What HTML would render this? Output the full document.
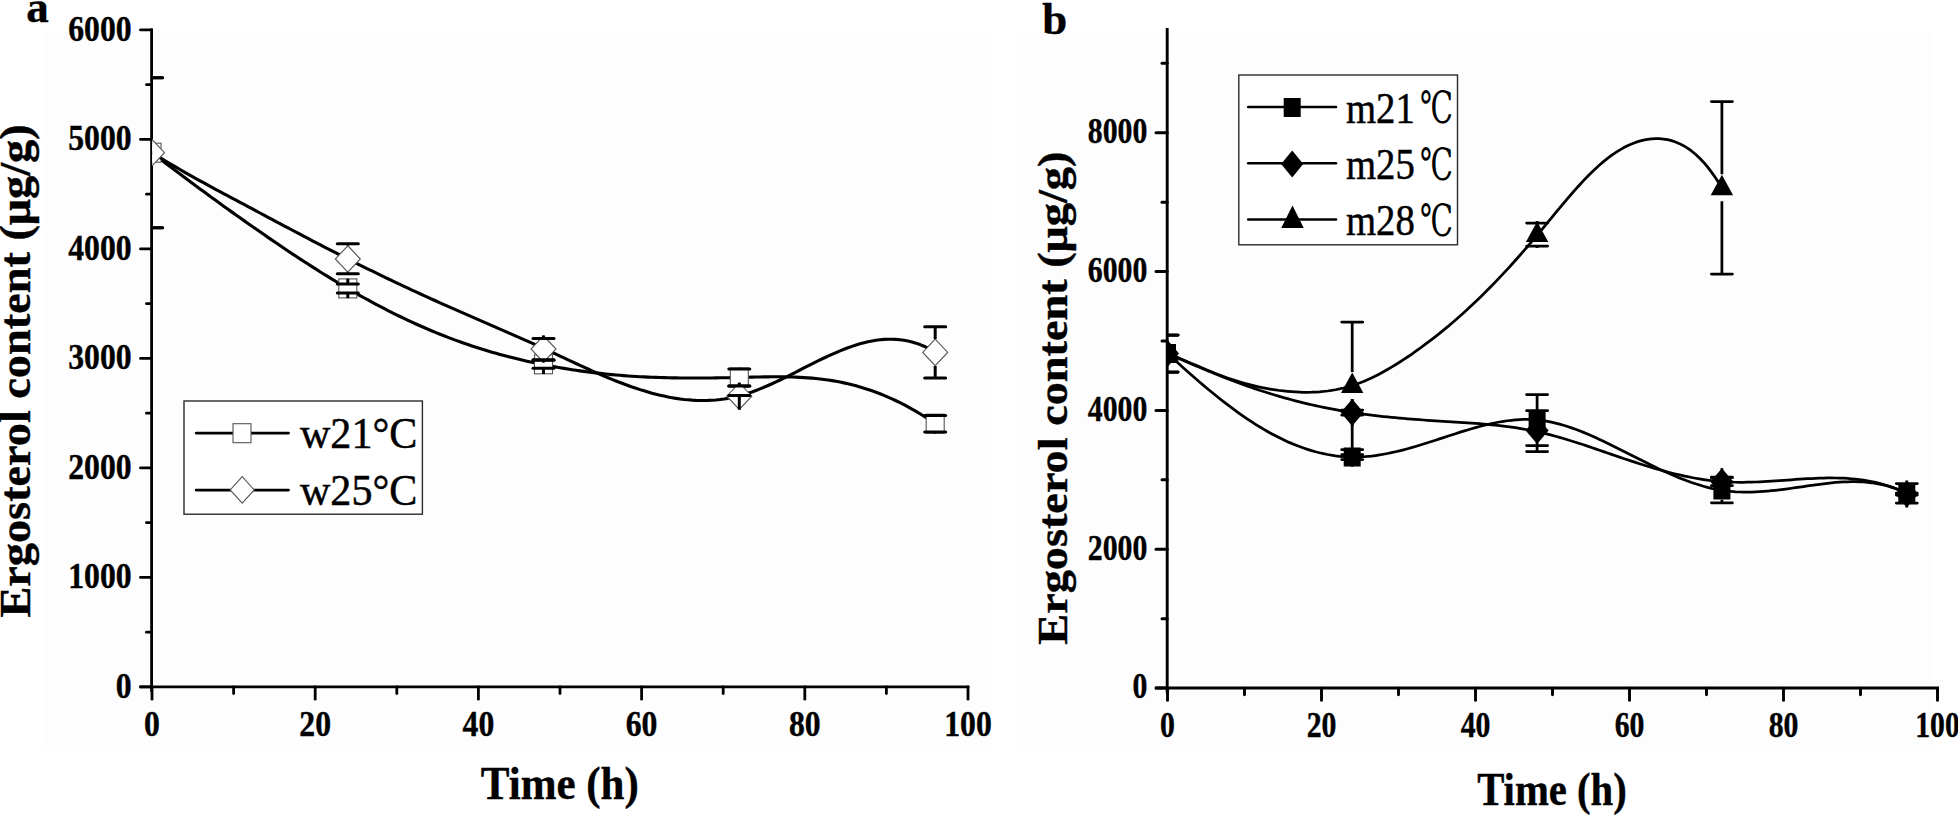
<!DOCTYPE html>
<html lang="en"><head><meta charset="utf-8"><title>Ergosterol content vs time</title>
<style>html,body{margin:0;padding:0;background:#fff;}svg{display:block}</style></head>
<body>
<svg width="1958" height="816" viewBox="0 0 1958 816">
<rect width="1958" height="816" fill="#fff"/>
<rect x="42" y="32" width="950" height="714" fill="#fdfdfd"/>
<rect x="1016" y="32" width="917" height="714" fill="#fdfdfd"/>
<g id="panelA">
<line x1="151.60" y1="28.40" x2="151.60" y2="692.00" stroke="#000" stroke-width="2.8" stroke-linecap="butt"/>
<line x1="139.50" y1="686.90" x2="969.40" y2="686.90" stroke="#000" stroke-width="2.8" stroke-linecap="butt"/>
<line x1="140.50" y1="686.90" x2="151.60" y2="686.90" stroke="#000" stroke-width="2.8" stroke-linecap="round"/>
<text transform="translate(131.60,697.60) scale(0.9,1)" font-family='"Liberation Serif", serif' font-weight="bold" font-size="35.2" text-anchor="end" stroke="#000" stroke-width="0.4">0</text>
<line x1="140.50" y1="577.40" x2="151.60" y2="577.40" stroke="#000" stroke-width="2.8" stroke-linecap="round"/>
<text transform="translate(131.60,588.10) scale(0.9,1)" font-family='"Liberation Serif", serif' font-weight="bold" font-size="35.2" text-anchor="end" stroke="#000" stroke-width="0.4">1000</text>
<line x1="140.50" y1="467.90" x2="151.60" y2="467.90" stroke="#000" stroke-width="2.8" stroke-linecap="round"/>
<text transform="translate(131.60,478.60) scale(0.9,1)" font-family='"Liberation Serif", serif' font-weight="bold" font-size="35.2" text-anchor="end" stroke="#000" stroke-width="0.4">2000</text>
<line x1="140.50" y1="358.40" x2="151.60" y2="358.40" stroke="#000" stroke-width="2.8" stroke-linecap="round"/>
<text transform="translate(131.60,369.10) scale(0.9,1)" font-family='"Liberation Serif", serif' font-weight="bold" font-size="35.2" text-anchor="end" stroke="#000" stroke-width="0.4">3000</text>
<line x1="140.50" y1="248.90" x2="151.60" y2="248.90" stroke="#000" stroke-width="2.8" stroke-linecap="round"/>
<text transform="translate(131.60,259.60) scale(0.9,1)" font-family='"Liberation Serif", serif' font-weight="bold" font-size="35.2" text-anchor="end" stroke="#000" stroke-width="0.4">4000</text>
<line x1="140.50" y1="139.40" x2="151.60" y2="139.40" stroke="#000" stroke-width="2.8" stroke-linecap="round"/>
<text transform="translate(131.60,150.10) scale(0.9,1)" font-family='"Liberation Serif", serif' font-weight="bold" font-size="35.2" text-anchor="end" stroke="#000" stroke-width="0.4">5000</text>
<line x1="140.50" y1="29.90" x2="151.60" y2="29.90" stroke="#000" stroke-width="2.8" stroke-linecap="round"/>
<text transform="translate(131.60,40.60) scale(0.9,1)" font-family='"Liberation Serif", serif' font-weight="bold" font-size="35.2" text-anchor="end" stroke="#000" stroke-width="0.4">6000</text>
<line x1="146.50" y1="632.15" x2="151.60" y2="632.15" stroke="#000" stroke-width="2.8" stroke-linecap="round"/>
<line x1="146.50" y1="522.65" x2="151.60" y2="522.65" stroke="#000" stroke-width="2.8" stroke-linecap="round"/>
<line x1="146.50" y1="413.15" x2="151.60" y2="413.15" stroke="#000" stroke-width="2.8" stroke-linecap="round"/>
<line x1="146.50" y1="303.65" x2="151.60" y2="303.65" stroke="#000" stroke-width="2.8" stroke-linecap="round"/>
<line x1="146.50" y1="194.15" x2="151.60" y2="194.15" stroke="#000" stroke-width="2.8" stroke-linecap="round"/>
<line x1="146.50" y1="84.65" x2="151.60" y2="84.65" stroke="#000" stroke-width="2.8" stroke-linecap="round"/>
<line x1="152.00" y1="686.90" x2="152.00" y2="699.20" stroke="#000" stroke-width="2.8" stroke-linecap="round"/>
<text transform="translate(152.00,736.00) scale(0.9,1)" font-family='"Liberation Serif", serif' font-weight="bold" font-size="35.2" text-anchor="middle" stroke="#000" stroke-width="0.4">0</text>
<line x1="315.20" y1="686.90" x2="315.20" y2="699.20" stroke="#000" stroke-width="2.8" stroke-linecap="round"/>
<text transform="translate(315.20,736.00) scale(0.9,1)" font-family='"Liberation Serif", serif' font-weight="bold" font-size="35.2" text-anchor="middle" stroke="#000" stroke-width="0.4">20</text>
<line x1="478.40" y1="686.90" x2="478.40" y2="699.20" stroke="#000" stroke-width="2.8" stroke-linecap="round"/>
<text transform="translate(478.40,736.00) scale(0.9,1)" font-family='"Liberation Serif", serif' font-weight="bold" font-size="35.2" text-anchor="middle" stroke="#000" stroke-width="0.4">40</text>
<line x1="641.60" y1="686.90" x2="641.60" y2="699.20" stroke="#000" stroke-width="2.8" stroke-linecap="round"/>
<text transform="translate(641.60,736.00) scale(0.9,1)" font-family='"Liberation Serif", serif' font-weight="bold" font-size="35.2" text-anchor="middle" stroke="#000" stroke-width="0.4">60</text>
<line x1="804.80" y1="686.90" x2="804.80" y2="699.20" stroke="#000" stroke-width="2.8" stroke-linecap="round"/>
<text transform="translate(804.80,736.00) scale(0.9,1)" font-family='"Liberation Serif", serif' font-weight="bold" font-size="35.2" text-anchor="middle" stroke="#000" stroke-width="0.4">80</text>
<line x1="968.00" y1="686.90" x2="968.00" y2="699.20" stroke="#000" stroke-width="2.8" stroke-linecap="round"/>
<text transform="translate(968.00,736.00) scale(0.9,1)" font-family='"Liberation Serif", serif' font-weight="bold" font-size="35.2" text-anchor="middle" stroke="#000" stroke-width="0.4">100</text>
<line x1="233.60" y1="686.90" x2="233.60" y2="693.60" stroke="#000" stroke-width="2.8" stroke-linecap="round"/>
<line x1="396.80" y1="686.90" x2="396.80" y2="693.60" stroke="#000" stroke-width="2.8" stroke-linecap="round"/>
<line x1="560.00" y1="686.90" x2="560.00" y2="693.60" stroke="#000" stroke-width="2.8" stroke-linecap="round"/>
<line x1="723.20" y1="686.90" x2="723.20" y2="693.60" stroke="#000" stroke-width="2.8" stroke-linecap="round"/>
<line x1="886.40" y1="686.90" x2="886.40" y2="693.60" stroke="#000" stroke-width="2.8" stroke-linecap="round"/>
<text transform="translate(559.80,799.00) scale(0.935,1)" font-family='"Liberation Serif", serif' font-weight="bold" font-size="46" text-anchor="middle" stroke="#000" stroke-width="0.4">Time (h)</text>
<text transform="translate(30.40,371.00) rotate(-90) scale(1.052,1)" font-family='"Liberation Serif", serif' font-weight="bold" font-size="44" text-anchor="middle" stroke="#000" stroke-width="0.4">Ergosterol content (μg/g)</text>
<text transform="translate(26.20,21.70) scale(1.0,1.0)" font-family='"Liberation Serif", serif' font-weight="bold" font-size="45" text-anchor="start" stroke="#000" stroke-width="0.4">a</text>
<clipPath id="clipA"><rect x="152.2" y="20" width="830" height="667"/></clipPath>
<g clip-path="url(#clipA)">
<path d="M152.0,152.67 L156.0,155.76 L160.0,158.84 L164.0,161.91 L168.0,164.96 L172.0,168.00 L176.0,171.03 L180.0,174.04 L184.0,177.04 L188.0,180.03 L192.0,183.01 L196.0,185.97 L200.0,188.92 L204.0,191.86 L208.0,194.79 L212.0,197.71 L216.0,200.61 L220.0,203.50 L224.0,206.39 L228.0,209.26 L232.0,212.12 L236.0,214.96 L240.0,217.80 L244.0,220.63 L248.0,223.44 L252.0,226.25 L256.0,229.04 L260.0,231.83 L264.0,234.60 L268.0,237.35 L272.0,240.10 L276.0,242.83 L280.0,245.54 L284.0,248.24 L288.0,250.92 L292.0,253.59 L296.0,256.24 L300.0,258.86 L304.0,261.47 L308.0,264.06 L312.0,266.63 L316.0,269.17 L320.0,271.70 L324.0,274.20 L328.0,276.67 L332.0,279.12 L336.0,281.55 L340.0,283.95 L344.0,286.32 L348.0,288.67 L352.0,290.99 L356.0,293.28 L360.0,295.54 L364.0,297.77 L368.0,299.97 L372.0,302.14 L376.0,304.29 L380.0,306.40 L384.0,308.48 L388.0,310.53 L392.0,312.55 L396.0,314.54 L400.0,316.49 L404.0,318.41 L408.0,320.31 L412.0,322.16 L416.0,323.99 L420.0,325.78 L424.0,327.54 L428.0,329.26 L432.0,330.95 L436.0,332.61 L440.0,334.22 L444.0,335.81 L448.0,337.36 L452.0,338.87 L456.0,340.35 L460.0,341.79 L464.0,343.20 L468.0,344.58 L472.0,345.92 L476.0,347.23 L480.0,348.50 L484.0,349.75 L488.0,350.96 L492.0,352.14 L496.0,353.28 L500.0,354.40 L504.0,355.49 L508.0,356.55 L512.0,357.57 L516.0,358.57 L520.0,359.54 L524.0,360.48 L528.0,361.39 L532.0,362.28 L536.0,363.13 L540.0,363.96 L544.0,364.77 L548.0,365.55 L552.0,366.30 L556.0,367.02 L560.0,367.72 L564.0,368.40 L568.0,369.05 L572.0,369.67 L576.0,370.27 L580.0,370.85 L584.0,371.40 L588.0,371.93 L592.0,372.43 L596.0,372.91 L600.0,373.37 L604.0,373.80 L608.0,374.21 L612.0,374.60 L616.0,374.96 L620.0,375.31 L624.0,375.63 L628.0,375.93 L632.0,376.20 L636.0,376.46 L640.0,376.69 L644.0,376.90 L648.0,377.10 L652.0,377.27 L656.0,377.42 L660.0,377.56 L664.0,377.67 L668.0,377.77 L672.0,377.86 L676.0,377.92 L680.0,377.98 L684.0,378.01 L688.0,378.04 L692.0,378.05 L696.0,378.05 L700.0,378.04 L704.0,378.01 L708.0,377.98 L712.0,377.93 L716.0,377.88 L720.0,377.82 L724.0,377.75 L728.0,377.68 L732.0,377.60 L736.0,377.51 L740.0,377.42 L744.0,377.32 L748.0,377.23 L752.0,377.13 L756.0,377.05 L760.0,376.97 L764.0,376.90 L768.0,376.85 L772.0,376.82 L776.0,376.80 L780.0,376.82 L784.0,376.86 L788.0,376.93 L792.0,377.03 L796.0,377.17 L800.0,377.35 L804.0,377.58 L808.0,377.85 L812.0,378.17 L816.0,378.54 L820.0,378.97 L824.0,379.46 L828.0,380.01 L832.0,380.63 L836.0,381.31 L840.0,382.06 L844.0,382.89 L848.0,383.80 L852.0,384.77 L856.0,385.83 L860.0,386.96 L864.0,388.16 L868.0,389.45 L872.0,390.82 L876.0,392.26 L880.0,393.79 L884.0,395.40 L888.0,397.10 L892.0,398.87 L896.0,400.74 L900.0,402.69 L904.0,404.72 L908.0,406.85 L912.0,409.06 L916.0,411.36 L920.0,413.75 L924.0,416.24 L928.0,418.81 L932.0,421.48 L935.4,423.83" fill="none" stroke="#000" stroke-width="3.1" stroke-linejoin="round" stroke-linecap="round"/>
<rect x="143.00" y="143.20" width="18" height="19" fill="#fff" stroke="#555" stroke-width="1.1"/>
<rect x="338.80" y="278.90" width="18" height="19" fill="#fff" stroke="#555" stroke-width="1.1"/>
<rect x="534.50" y="354.80" width="18" height="19" fill="#fff" stroke="#555" stroke-width="1.1"/>
<rect x="730.30" y="368.00" width="18" height="19" fill="#fff" stroke="#555" stroke-width="1.1"/>
<rect x="926.20" y="414.20" width="18" height="19" fill="#fff" stroke="#555" stroke-width="1.1"/>
<line x1="141.50" y1="77.70" x2="162.50" y2="77.70" stroke="#000" stroke-width="3.0" stroke-linecap="round"/>
<line x1="141.50" y1="227.70" x2="162.50" y2="227.70" stroke="#000" stroke-width="3.0" stroke-linecap="round"/>
<line x1="337.30" y1="284.00" x2="358.30" y2="284.00" stroke="#000" stroke-width="3.0" stroke-linecap="round"/>
<line x1="347.80" y1="284.00" x2="347.80" y2="278.70" stroke="#000" stroke-width="3.0" stroke-linecap="butt"/>
<line x1="337.30" y1="292.90" x2="358.30" y2="292.90" stroke="#000" stroke-width="3.0" stroke-linecap="round"/>
<line x1="347.80" y1="292.90" x2="347.80" y2="298.10" stroke="#000" stroke-width="3.0" stroke-linecap="butt"/>
<line x1="533.00" y1="360.30" x2="554.00" y2="360.30" stroke="#000" stroke-width="3.0" stroke-linecap="round"/>
<line x1="543.50" y1="360.30" x2="543.50" y2="354.60" stroke="#000" stroke-width="3.0" stroke-linecap="butt"/>
<line x1="533.00" y1="368.30" x2="554.00" y2="368.30" stroke="#000" stroke-width="3.0" stroke-linecap="round"/>
<line x1="543.50" y1="368.30" x2="543.50" y2="374.00" stroke="#000" stroke-width="3.0" stroke-linecap="butt"/>
<line x1="728.80" y1="368.90" x2="749.80" y2="368.90" stroke="#000" stroke-width="3.0" stroke-linecap="round"/>
<line x1="739.30" y1="368.90" x2="739.30" y2="367.80" stroke="#000" stroke-width="3.0" stroke-linecap="butt"/>
<line x1="728.80" y1="386.00" x2="749.80" y2="386.00" stroke="#000" stroke-width="3.0" stroke-linecap="round"/>
<line x1="739.30" y1="386.00" x2="739.30" y2="387.20" stroke="#000" stroke-width="3.0" stroke-linecap="butt"/>
<line x1="924.70" y1="415.40" x2="945.70" y2="415.40" stroke="#000" stroke-width="3.0" stroke-linecap="round"/>
<line x1="935.20" y1="415.40" x2="935.20" y2="414.00" stroke="#000" stroke-width="3.0" stroke-linecap="butt"/>
<line x1="924.70" y1="432.00" x2="945.70" y2="432.00" stroke="#000" stroke-width="3.0" stroke-linecap="round"/>
<line x1="935.20" y1="432.00" x2="935.20" y2="433.40" stroke="#000" stroke-width="3.0" stroke-linecap="butt"/>
<path d="M152.0,152.74 L156.0,155.21 L160.0,157.66 L164.0,160.08 L168.0,162.47 L172.0,164.84 L176.0,167.18 L180.0,169.49 L184.0,171.79 L188.0,174.06 L192.0,176.32 L196.0,178.55 L200.0,180.77 L204.0,182.98 L208.0,185.17 L212.0,187.35 L216.0,189.52 L220.0,191.67 L224.0,193.82 L228.0,195.96 L232.0,198.10 L236.0,200.23 L240.0,202.36 L244.0,204.49 L248.0,206.61 L252.0,208.74 L256.0,210.87 L260.0,213.00 L264.0,215.13 L268.0,217.26 L272.0,219.38 L276.0,221.51 L280.0,223.64 L284.0,225.76 L288.0,227.88 L292.0,230.00 L296.0,232.11 L300.0,234.23 L304.0,236.33 L308.0,238.43 L312.0,240.53 L316.0,242.62 L320.0,244.70 L324.0,246.78 L328.0,248.84 L332.0,250.90 L336.0,252.96 L340.0,255.00 L344.0,257.03 L348.0,259.06 L352.0,261.07 L356.0,263.07 L360.0,265.06 L364.0,267.05 L368.0,269.02 L372.0,270.98 L376.0,272.93 L380.0,274.87 L384.0,276.81 L388.0,278.73 L392.0,280.64 L396.0,282.54 L400.0,284.43 L404.0,286.32 L408.0,288.19 L412.0,290.05 L416.0,291.91 L420.0,293.75 L424.0,295.59 L428.0,297.41 L432.0,299.23 L436.0,301.03 L440.0,302.83 L444.0,304.62 L448.0,306.40 L452.0,308.16 L456.0,309.93 L460.0,311.68 L464.0,313.43 L468.0,315.18 L472.0,316.92 L476.0,318.65 L480.0,320.39 L484.0,322.12 L488.0,323.86 L492.0,325.59 L496.0,327.33 L500.0,329.07 L504.0,330.81 L508.0,332.56 L512.0,334.31 L516.0,336.07 L520.0,337.84 L524.0,339.61 L528.0,341.40 L532.0,343.19 L536.0,345.00 L540.0,346.82 L544.0,348.65 L548.0,350.49 L552.0,352.34 L556.0,354.21 L560.0,356.07 L564.0,357.94 L568.0,359.81 L572.0,361.67 L576.0,363.52 L580.0,365.36 L584.0,367.19 L588.0,369.00 L592.0,370.80 L596.0,372.56 L600.0,374.31 L604.0,376.02 L608.0,377.70 L612.0,379.34 L616.0,380.95 L620.0,382.51 L624.0,384.03 L628.0,385.50 L632.0,386.92 L636.0,388.29 L640.0,389.60 L644.0,390.85 L648.0,392.03 L652.0,393.15 L656.0,394.21 L660.0,395.19 L664.0,396.09 L668.0,396.93 L672.0,397.68 L676.0,398.35 L680.0,398.93 L684.0,399.43 L688.0,399.83 L692.0,400.15 L696.0,400.37 L700.0,400.49 L704.0,400.51 L708.0,400.42 L712.0,400.23 L716.0,399.93 L720.0,399.52 L724.0,399.00 L728.0,398.35 L732.0,397.59 L736.0,396.70 L740.0,395.69 L744.0,394.56 L748.0,393.30 L752.0,391.94 L756.0,390.47 L760.0,388.91 L764.0,387.26 L768.0,385.54 L772.0,383.75 L776.0,381.90 L780.0,380.00 L784.0,378.05 L788.0,376.07 L792.0,374.06 L796.0,372.03 L800.0,370.00 L804.0,367.96 L808.0,365.92 L812.0,363.91 L816.0,361.91 L820.0,359.95 L824.0,358.02 L828.0,356.14 L832.0,354.32 L836.0,352.57 L840.0,350.88 L844.0,349.28 L848.0,347.76 L852.0,346.35 L856.0,345.03 L860.0,343.83 L864.0,342.75 L868.0,341.79 L872.0,340.98 L876.0,340.30 L880.0,339.77 L884.0,339.41 L888.0,339.21 L892.0,339.19 L896.0,339.34 L900.0,339.69 L904.0,340.24 L908.0,340.99 L912.0,341.95 L916.0,343.14 L920.0,344.56 L924.0,346.21 L928.0,348.11 L932.0,350.25 L935.4,352.29" fill="none" stroke="#000" stroke-width="3.1" stroke-linejoin="round" stroke-linecap="round"/>
<polygon points="152.00,139.45 164.50,152.70 152.00,165.95 139.50,152.70" fill="#fff" stroke="#555" stroke-width="1.1"/>
<polygon points="347.80,245.75 360.30,259.00 347.80,272.25 335.30,259.00" fill="#fff" stroke="#555" stroke-width="1.1"/>
<polygon points="543.50,335.75 556.00,349.00 543.50,362.25 531.00,349.00" fill="#fff" stroke="#555" stroke-width="1.1"/>
<polygon points="739.30,382.95 751.80,396.20 739.30,409.45 726.80,396.20" fill="#fff" stroke="#555" stroke-width="1.1"/>
<polygon points="935.20,339.15 947.70,352.40 935.20,365.65 922.70,352.40" fill="#fff" stroke="#555" stroke-width="1.1"/>
<line x1="141.50" y1="77.70" x2="162.50" y2="77.70" stroke="#000" stroke-width="3.0" stroke-linecap="round"/>
<line x1="141.50" y1="227.70" x2="162.50" y2="227.70" stroke="#000" stroke-width="3.0" stroke-linecap="round"/>
<line x1="337.30" y1="243.80" x2="358.30" y2="243.80" stroke="#000" stroke-width="3.0" stroke-linecap="round"/>
<line x1="347.80" y1="243.80" x2="347.80" y2="245.50" stroke="#000" stroke-width="3.0" stroke-linecap="butt"/>
<line x1="337.30" y1="273.80" x2="358.30" y2="273.80" stroke="#000" stroke-width="3.0" stroke-linecap="round"/>
<line x1="347.80" y1="273.80" x2="347.80" y2="272.50" stroke="#000" stroke-width="3.0" stroke-linecap="butt"/>
<line x1="533.00" y1="338.60" x2="554.00" y2="338.60" stroke="#000" stroke-width="3.0" stroke-linecap="round"/>
<line x1="543.50" y1="338.60" x2="543.50" y2="335.50" stroke="#000" stroke-width="3.0" stroke-linecap="butt"/>
<line x1="533.00" y1="359.70" x2="554.00" y2="359.70" stroke="#000" stroke-width="3.0" stroke-linecap="round"/>
<line x1="543.50" y1="359.70" x2="543.50" y2="362.50" stroke="#000" stroke-width="3.0" stroke-linecap="butt"/>
<line x1="728.80" y1="386.00" x2="749.80" y2="386.00" stroke="#000" stroke-width="3.0" stroke-linecap="round"/>
<line x1="739.30" y1="386.00" x2="739.30" y2="382.70" stroke="#000" stroke-width="3.0" stroke-linecap="butt"/>
<line x1="728.80" y1="395.60" x2="749.80" y2="395.60" stroke="#000" stroke-width="3.0" stroke-linecap="round"/>
<line x1="739.30" y1="395.60" x2="739.30" y2="409.70" stroke="#000" stroke-width="3.0" stroke-linecap="butt"/>
<line x1="924.70" y1="326.70" x2="945.70" y2="326.70" stroke="#000" stroke-width="3.0" stroke-linecap="round"/>
<line x1="935.20" y1="326.70" x2="935.20" y2="338.90" stroke="#000" stroke-width="3.0" stroke-linecap="butt"/>
<line x1="924.70" y1="378.10" x2="945.70" y2="378.10" stroke="#000" stroke-width="3.0" stroke-linecap="round"/>
<line x1="935.20" y1="378.10" x2="935.20" y2="365.90" stroke="#000" stroke-width="3.0" stroke-linecap="butt"/>
</g>
<rect x="184" y="401" width="238.4" height="113.2" fill="#fff" stroke="#2a2a2a" stroke-width="1.4"/>
<line x1="196.20" y1="433.10" x2="288.50" y2="433.10" stroke="#000" stroke-width="2.9" stroke-linecap="round"/>
<rect x="233.00" y="423.70" width="18" height="19" fill="#fff" stroke="#555" stroke-width="1.1"/>
<line x1="196.20" y1="490.10" x2="288.50" y2="490.10" stroke="#000" stroke-width="2.9" stroke-linecap="round"/>
<polygon points="242.20,476.65 254.20,489.90 242.20,503.15 230.20,489.90" fill="#fff" stroke="#555" stroke-width="1.1"/>
<text transform="translate(300.00,448.20) scale(0.945,1)" font-family='"Liberation Serif", serif' font-weight="normal" font-size="44.5" text-anchor="start" stroke="#000" stroke-width="0.5">w21°C</text>
<text transform="translate(300.00,505.00) scale(0.945,1)" font-family='"Liberation Serif", serif' font-weight="normal" font-size="44.5" text-anchor="start" stroke="#000" stroke-width="0.5">w25°C</text>
</g>
<g id="panelB">
<line x1="1167.20" y1="27.90" x2="1167.20" y2="693.00" stroke="#000" stroke-width="2.9" stroke-linecap="butt"/>
<line x1="1155.00" y1="688.10" x2="1938.90" y2="688.10" stroke="#000" stroke-width="3.0" stroke-linecap="butt"/>
<line x1="1156.00" y1="688.10" x2="1167.20" y2="688.10" stroke="#000" stroke-width="3.0" stroke-linecap="round"/>
<text transform="translate(1147.30,698.40) scale(0.845,1)" font-family='"Liberation Serif", serif' font-weight="bold" font-size="35.2" text-anchor="end" stroke="#000" stroke-width="0.4">0</text>
<line x1="1156.00" y1="549.26" x2="1167.20" y2="549.26" stroke="#000" stroke-width="3.0" stroke-linecap="round"/>
<text transform="translate(1147.30,559.56) scale(0.845,1)" font-family='"Liberation Serif", serif' font-weight="bold" font-size="35.2" text-anchor="end" stroke="#000" stroke-width="0.4">2000</text>
<line x1="1156.00" y1="410.42" x2="1167.20" y2="410.42" stroke="#000" stroke-width="3.0" stroke-linecap="round"/>
<text transform="translate(1147.30,420.72) scale(0.845,1)" font-family='"Liberation Serif", serif' font-weight="bold" font-size="35.2" text-anchor="end" stroke="#000" stroke-width="0.4">4000</text>
<line x1="1156.00" y1="271.58" x2="1167.20" y2="271.58" stroke="#000" stroke-width="3.0" stroke-linecap="round"/>
<text transform="translate(1147.30,281.88) scale(0.845,1)" font-family='"Liberation Serif", serif' font-weight="bold" font-size="35.2" text-anchor="end" stroke="#000" stroke-width="0.4">6000</text>
<line x1="1156.00" y1="132.74" x2="1167.20" y2="132.74" stroke="#000" stroke-width="3.0" stroke-linecap="round"/>
<text transform="translate(1147.30,143.04) scale(0.845,1)" font-family='"Liberation Serif", serif' font-weight="bold" font-size="35.2" text-anchor="end" stroke="#000" stroke-width="0.4">8000</text>
<line x1="1162.00" y1="618.68" x2="1167.20" y2="618.68" stroke="#000" stroke-width="3.0" stroke-linecap="round"/>
<line x1="1162.00" y1="479.84" x2="1167.20" y2="479.84" stroke="#000" stroke-width="3.0" stroke-linecap="round"/>
<line x1="1162.00" y1="341.00" x2="1167.20" y2="341.00" stroke="#000" stroke-width="3.0" stroke-linecap="round"/>
<line x1="1162.00" y1="202.16" x2="1167.20" y2="202.16" stroke="#000" stroke-width="3.0" stroke-linecap="round"/>
<line x1="1162.00" y1="63.32" x2="1167.20" y2="63.32" stroke="#000" stroke-width="3.0" stroke-linecap="round"/>
<line x1="1167.50" y1="688.10" x2="1167.50" y2="700.40" stroke="#000" stroke-width="2.9" stroke-linecap="round"/>
<text transform="translate(1167.50,737.00) scale(0.845,1)" font-family='"Liberation Serif", serif' font-weight="bold" font-size="35.2" text-anchor="middle" stroke="#000" stroke-width="0.4">0</text>
<line x1="1321.50" y1="688.10" x2="1321.50" y2="700.40" stroke="#000" stroke-width="2.9" stroke-linecap="round"/>
<text transform="translate(1321.50,737.00) scale(0.845,1)" font-family='"Liberation Serif", serif' font-weight="bold" font-size="35.2" text-anchor="middle" stroke="#000" stroke-width="0.4">20</text>
<line x1="1475.50" y1="688.10" x2="1475.50" y2="700.40" stroke="#000" stroke-width="2.9" stroke-linecap="round"/>
<text transform="translate(1475.50,737.00) scale(0.845,1)" font-family='"Liberation Serif", serif' font-weight="bold" font-size="35.2" text-anchor="middle" stroke="#000" stroke-width="0.4">40</text>
<line x1="1629.50" y1="688.10" x2="1629.50" y2="700.40" stroke="#000" stroke-width="2.9" stroke-linecap="round"/>
<text transform="translate(1629.50,737.00) scale(0.845,1)" font-family='"Liberation Serif", serif' font-weight="bold" font-size="35.2" text-anchor="middle" stroke="#000" stroke-width="0.4">60</text>
<line x1="1783.50" y1="688.10" x2="1783.50" y2="700.40" stroke="#000" stroke-width="2.9" stroke-linecap="round"/>
<text transform="translate(1783.50,737.00) scale(0.845,1)" font-family='"Liberation Serif", serif' font-weight="bold" font-size="35.2" text-anchor="middle" stroke="#000" stroke-width="0.4">80</text>
<line x1="1937.50" y1="688.10" x2="1937.50" y2="700.40" stroke="#000" stroke-width="2.9" stroke-linecap="round"/>
<text transform="translate(1937.50,737.00) scale(0.845,1)" font-family='"Liberation Serif", serif' font-weight="bold" font-size="35.2" text-anchor="middle" stroke="#000" stroke-width="0.4">100</text>
<line x1="1244.50" y1="688.10" x2="1244.50" y2="694.80" stroke="#000" stroke-width="2.9" stroke-linecap="round"/>
<line x1="1398.50" y1="688.10" x2="1398.50" y2="694.80" stroke="#000" stroke-width="2.9" stroke-linecap="round"/>
<line x1="1552.50" y1="688.10" x2="1552.50" y2="694.80" stroke="#000" stroke-width="2.9" stroke-linecap="round"/>
<line x1="1706.50" y1="688.10" x2="1706.50" y2="694.80" stroke="#000" stroke-width="2.9" stroke-linecap="round"/>
<line x1="1860.50" y1="688.10" x2="1860.50" y2="694.80" stroke="#000" stroke-width="2.9" stroke-linecap="round"/>
<text transform="translate(1552.00,805.00) scale(0.885,1)" font-family='"Liberation Serif", serif' font-weight="bold" font-size="46" text-anchor="middle" stroke="#000" stroke-width="0.4">Time (h)</text>
<text transform="translate(1066.50,398.20) rotate(-90) scale(1.115,1)" font-family='"Liberation Serif", serif' font-weight="bold" font-size="41.5" text-anchor="middle" stroke="#000" stroke-width="0.4">Ergosterol content (μg/g)</text>
<text transform="translate(1042.30,33.80) scale(1.03,1.0)" font-family='"Liberation Serif", serif' font-weight="bold" font-size="43.5" text-anchor="start" stroke="#000" stroke-width="0.4">b</text>
<clipPath id="clipB"><rect x="1167.5" y="20" width="790" height="668"/></clipPath>
<g clip-path="url(#clipB)">
<path d="M1167.5,353.38 L1171.5,357.05 L1175.5,360.71 L1179.5,364.34 L1183.5,367.94 L1187.5,371.50 L1191.5,375.03 L1195.5,378.52 L1199.5,381.97 L1203.5,385.37 L1207.5,388.73 L1211.5,392.04 L1215.5,395.29 L1219.5,398.49 L1223.5,401.63 L1227.5,404.71 L1231.5,407.72 L1235.5,410.67 L1239.5,413.54 L1243.5,416.35 L1247.5,419.07 L1251.5,421.72 L1255.5,424.29 L1259.5,426.77 L1263.5,429.17 L1267.5,431.47 L1271.5,433.69 L1275.5,435.82 L1279.5,437.85 L1283.5,439.79 L1287.5,441.63 L1291.5,443.38 L1295.5,445.02 L1299.5,446.57 L1303.5,448.02 L1307.5,449.36 L1311.5,450.61 L1315.5,451.74 L1319.5,452.77 L1323.5,453.70 L1327.5,454.51 L1331.5,455.22 L1335.5,455.81 L1339.5,456.29 L1343.5,456.66 L1347.5,456.91 L1351.5,457.04 L1355.5,457.05 L1359.5,456.96 L1363.5,456.75 L1367.5,456.44 L1371.5,456.03 L1375.5,455.52 L1379.5,454.93 L1383.5,454.25 L1387.5,453.50 L1391.5,452.67 L1395.5,451.77 L1399.5,450.82 L1403.5,449.80 L1407.5,448.73 L1411.5,447.61 L1415.5,446.46 L1419.5,445.26 L1423.5,444.03 L1427.5,442.78 L1431.5,441.51 L1435.5,440.21 L1439.5,438.91 L1443.5,437.60 L1447.5,436.29 L1451.5,434.99 L1455.5,433.69 L1459.5,432.42 L1463.5,431.17 L1467.5,429.94 L1471.5,428.76 L1475.5,427.61 L1479.5,426.52 L1483.5,425.48 L1487.5,424.50 L1491.5,423.59 L1495.5,422.75 L1499.5,422.00 L1503.5,421.33 L1507.5,420.75 L1511.5,420.27 L1515.5,419.89 L1519.5,419.63 L1523.5,419.48 L1527.5,419.46 L1531.5,419.57 L1535.5,419.82 L1539.5,420.20 L1543.5,420.73 L1547.5,421.39 L1551.5,422.18 L1555.5,423.10 L1559.5,424.13 L1563.5,425.26 L1567.5,426.51 L1571.5,427.85 L1575.5,429.28 L1579.5,430.79 L1583.5,432.38 L1587.5,434.05 L1591.5,435.77 L1595.5,437.56 L1599.5,439.40 L1603.5,441.29 L1607.5,443.22 L1611.5,445.18 L1615.5,447.17 L1619.5,449.18 L1623.5,451.20 L1627.5,453.23 L1631.5,455.27 L1635.5,457.30 L1639.5,459.32 L1643.5,461.33 L1647.5,463.32 L1651.5,465.28 L1655.5,467.22 L1659.5,469.12 L1663.5,470.98 L1667.5,472.79 L1671.5,474.55 L1675.5,476.26 L1679.5,477.91 L1683.5,479.50 L1687.5,481.01 L1691.5,482.44 L1695.5,483.80 L1699.5,485.06 L1703.5,486.24 L1707.5,487.32 L1711.5,488.30 L1715.5,489.16 L1719.5,489.92 L1723.5,490.56 L1727.5,491.08 L1731.5,491.49 L1735.5,491.79 L1739.5,492.00 L1743.5,492.11 L1747.5,492.13 L1751.5,492.06 L1755.5,491.93 L1759.5,491.72 L1763.5,491.44 L1767.5,491.11 L1771.5,490.73 L1775.5,490.30 L1779.5,489.83 L1783.5,489.33 L1787.5,488.80 L1791.5,488.25 L1795.5,487.68 L1799.5,487.10 L1803.5,486.52 L1807.5,485.94 L1811.5,485.37 L1815.5,484.81 L1819.5,484.27 L1823.5,483.77 L1827.5,483.30 L1831.5,482.87 L1835.5,482.49 L1839.5,482.18 L1843.5,481.93 L1847.5,481.76 L1851.5,481.67 L1855.5,481.68 L1859.5,481.78 L1863.5,481.99 L1867.5,482.31 L1871.5,482.76 L1875.5,483.34 L1879.5,484.06 L1883.5,484.92 L1887.5,485.94 L1891.5,487.12 L1895.5,488.46 L1899.5,489.99 L1903.5,491.70 L1906.7,493.21" fill="none" stroke="#000" stroke-width="2.75" stroke-linejoin="round" stroke-linecap="round"/>
<line x1="1157.00" y1="335.00" x2="1178.00" y2="335.00" stroke="#000" stroke-width="2.75" stroke-linecap="round"/>
<line x1="1157.00" y1="372.00" x2="1178.00" y2="372.00" stroke="#000" stroke-width="2.75" stroke-linecap="round"/>
<line x1="1341.70" y1="454.50" x2="1362.70" y2="454.50" stroke="#000" stroke-width="2.75" stroke-linecap="round"/>
<line x1="1352.20" y1="454.50" x2="1352.20" y2="447.30" stroke="#000" stroke-width="2.75" stroke-linecap="butt"/>
<line x1="1341.70" y1="459.50" x2="1362.70" y2="459.50" stroke="#000" stroke-width="2.75" stroke-linecap="round"/>
<line x1="1352.20" y1="459.50" x2="1352.20" y2="466.70" stroke="#000" stroke-width="2.75" stroke-linecap="butt"/>
<line x1="1526.60" y1="394.50" x2="1547.60" y2="394.50" stroke="#000" stroke-width="2.75" stroke-linecap="round"/>
<line x1="1537.10" y1="394.50" x2="1537.10" y2="410.50" stroke="#000" stroke-width="2.75" stroke-linecap="butt"/>
<line x1="1526.60" y1="445.50" x2="1547.60" y2="445.50" stroke="#000" stroke-width="2.75" stroke-linecap="round"/>
<line x1="1537.10" y1="445.50" x2="1537.10" y2="429.90" stroke="#000" stroke-width="2.75" stroke-linecap="butt"/>
<line x1="1711.40" y1="477.20" x2="1732.40" y2="477.20" stroke="#000" stroke-width="2.75" stroke-linecap="round"/>
<line x1="1721.90" y1="477.20" x2="1721.90" y2="480.30" stroke="#000" stroke-width="2.75" stroke-linecap="butt"/>
<line x1="1711.40" y1="502.80" x2="1732.40" y2="502.80" stroke="#000" stroke-width="2.75" stroke-linecap="round"/>
<line x1="1721.90" y1="502.80" x2="1721.90" y2="499.70" stroke="#000" stroke-width="2.75" stroke-linecap="butt"/>
<line x1="1896.30" y1="483.50" x2="1917.30" y2="483.50" stroke="#000" stroke-width="2.75" stroke-linecap="round"/>
<line x1="1896.30" y1="503.10" x2="1917.30" y2="503.10" stroke="#000" stroke-width="2.75" stroke-linecap="round"/>
<rect x="1159.00" y="344.00" width="17" height="19" fill="#000"/>
<rect x="1343.70" y="447.50" width="17" height="19" fill="#000"/>
<rect x="1528.60" y="410.70" width="17" height="19" fill="#000"/>
<rect x="1713.40" y="480.50" width="17" height="19" fill="#000"/>
<rect x="1898.30" y="483.70" width="17" height="19" fill="#000"/>
<path d="M1167.5,353.40 L1171.5,355.18 L1175.5,356.96 L1179.5,358.72 L1183.5,360.47 L1187.5,362.21 L1191.5,363.94 L1195.5,365.65 L1199.5,367.35 L1203.5,369.03 L1207.5,370.69 L1211.5,372.33 L1215.5,373.96 L1219.5,375.56 L1223.5,377.14 L1227.5,378.70 L1231.5,380.24 L1235.5,381.75 L1239.5,383.23 L1243.5,384.69 L1247.5,386.12 L1251.5,387.52 L1255.5,388.89 L1259.5,390.22 L1263.5,391.53 L1267.5,392.80 L1271.5,394.04 L1275.5,395.25 L1279.5,396.43 L1283.5,397.58 L1287.5,398.69 L1291.5,399.77 L1295.5,400.83 L1299.5,401.85 L1303.5,402.84 L1307.5,403.80 L1311.5,404.73 L1315.5,405.63 L1319.5,406.50 L1323.5,407.34 L1327.5,408.15 L1331.5,408.93 L1335.5,409.68 L1339.5,410.40 L1343.5,411.09 L1347.5,411.76 L1351.5,412.39 L1355.5,413.00 L1359.5,413.58 L1363.5,414.13 L1367.5,414.66 L1371.5,415.17 L1375.5,415.65 L1379.5,416.11 L1383.5,416.54 L1387.5,416.96 L1391.5,417.36 L1395.5,417.74 L1399.5,418.11 L1403.5,418.45 L1407.5,418.79 L1411.5,419.11 L1415.5,419.42 L1419.5,419.72 L1423.5,420.00 L1427.5,420.28 L1431.5,420.55 L1435.5,420.82 L1439.5,421.07 L1443.5,421.33 L1447.5,421.58 L1451.5,421.82 L1455.5,422.07 L1459.5,422.32 L1463.5,422.58 L1467.5,422.85 L1471.5,423.13 L1475.5,423.42 L1479.5,423.74 L1483.5,424.07 L1487.5,424.42 L1491.5,424.80 L1495.5,425.20 L1499.5,425.63 L1503.5,426.10 L1507.5,426.60 L1511.5,427.14 L1515.5,427.72 L1519.5,428.35 L1523.5,429.02 L1527.5,429.74 L1531.5,430.51 L1535.5,431.33 L1539.5,432.21 L1543.5,433.14 L1547.5,434.13 L1551.5,435.16 L1555.5,436.24 L1559.5,437.37 L1563.5,438.53 L1567.5,439.73 L1571.5,440.96 L1575.5,442.22 L1579.5,443.50 L1583.5,444.81 L1587.5,446.14 L1591.5,447.48 L1595.5,448.84 L1599.5,450.21 L1603.5,451.59 L1607.5,452.96 L1611.5,454.34 L1615.5,455.72 L1619.5,457.09 L1623.5,458.45 L1627.5,459.79 L1631.5,461.12 L1635.5,462.43 L1639.5,463.72 L1643.5,464.99 L1647.5,466.23 L1651.5,467.44 L1655.5,468.63 L1659.5,469.78 L1663.5,470.89 L1667.5,471.97 L1671.5,473.00 L1675.5,473.99 L1679.5,474.94 L1683.5,475.84 L1687.5,476.70 L1691.5,477.50 L1695.5,478.24 L1699.5,478.93 L1703.5,479.56 L1707.5,480.13 L1711.5,480.64 L1715.5,481.08 L1719.5,481.45 L1723.5,481.75 L1727.5,481.98 L1731.5,482.15 L1735.5,482.25 L1739.5,482.30 L1743.5,482.29 L1747.5,482.24 L1751.5,482.14 L1755.5,482.00 L1759.5,481.83 L1763.5,481.63 L1767.5,481.41 L1771.5,481.16 L1775.5,480.89 L1779.5,480.62 L1783.5,480.33 L1787.5,480.05 L1791.5,479.76 L1795.5,479.48 L1799.5,479.21 L1803.5,478.96 L1807.5,478.72 L1811.5,478.51 L1815.5,478.32 L1819.5,478.17 L1823.5,478.06 L1827.5,477.99 L1831.5,477.96 L1835.5,478.00 L1839.5,478.09 L1843.5,478.24 L1847.5,478.47 L1851.5,478.77 L1855.5,479.15 L1859.5,479.62 L1863.5,480.18 L1867.5,480.84 L1871.5,481.60 L1875.5,482.46 L1879.5,483.44 L1883.5,484.53 L1887.5,485.75 L1891.5,487.10 L1895.5,488.58 L1899.5,490.20 L1903.5,491.96 L1906.7,493.48" fill="none" stroke="#000" stroke-width="2.75" stroke-linejoin="round" stroke-linecap="round"/>
<line x1="1157.00" y1="335.00" x2="1178.00" y2="335.00" stroke="#000" stroke-width="2.75" stroke-linecap="round"/>
<line x1="1157.00" y1="372.00" x2="1178.00" y2="372.00" stroke="#000" stroke-width="2.75" stroke-linecap="round"/>
<line x1="1341.70" y1="410.00" x2="1362.70" y2="410.00" stroke="#000" stroke-width="2.75" stroke-linecap="round"/>
<line x1="1352.20" y1="410.00" x2="1352.20" y2="399.00" stroke="#000" stroke-width="2.75" stroke-linecap="butt"/>
<line x1="1341.70" y1="415.00" x2="1362.70" y2="415.00" stroke="#000" stroke-width="2.75" stroke-linecap="round"/>
<line x1="1352.20" y1="415.00" x2="1352.20" y2="426.00" stroke="#000" stroke-width="2.75" stroke-linecap="butt"/>
<line x1="1526.60" y1="410.70" x2="1547.60" y2="410.70" stroke="#000" stroke-width="2.75" stroke-linecap="round"/>
<line x1="1537.10" y1="410.70" x2="1537.10" y2="417.00" stroke="#000" stroke-width="2.75" stroke-linecap="butt"/>
<line x1="1526.60" y1="451.60" x2="1547.60" y2="451.60" stroke="#000" stroke-width="2.75" stroke-linecap="round"/>
<line x1="1537.10" y1="451.60" x2="1537.10" y2="444.00" stroke="#000" stroke-width="2.75" stroke-linecap="butt"/>
<line x1="1711.40" y1="477.70" x2="1732.40" y2="477.70" stroke="#000" stroke-width="2.75" stroke-linecap="round"/>
<line x1="1721.90" y1="477.70" x2="1721.90" y2="468.20" stroke="#000" stroke-width="2.75" stroke-linecap="butt"/>
<line x1="1711.40" y1="485.70" x2="1732.40" y2="485.70" stroke="#000" stroke-width="2.75" stroke-linecap="round"/>
<line x1="1721.90" y1="485.70" x2="1721.90" y2="495.20" stroke="#000" stroke-width="2.75" stroke-linecap="butt"/>
<line x1="1896.30" y1="493.10" x2="1917.30" y2="493.10" stroke="#000" stroke-width="2.75" stroke-linecap="round"/>
<line x1="1906.80" y1="493.10" x2="1906.80" y2="480.60" stroke="#000" stroke-width="2.75" stroke-linecap="butt"/>
<line x1="1896.30" y1="495.10" x2="1917.30" y2="495.10" stroke="#000" stroke-width="2.75" stroke-linecap="round"/>
<line x1="1906.80" y1="495.10" x2="1906.80" y2="507.60" stroke="#000" stroke-width="2.75" stroke-linecap="butt"/>
<polygon points="1167.50,340.00 1179.00,353.50 1167.50,367.00 1156.00,353.50" fill="#000"/>
<polygon points="1352.20,399.00 1363.70,412.50 1352.20,426.00 1340.70,412.50" fill="#000"/>
<polygon points="1537.10,417.00 1548.60,430.50 1537.10,444.00 1525.60,430.50" fill="#000"/>
<polygon points="1721.90,468.20 1733.40,481.70 1721.90,495.20 1710.40,481.70" fill="#000"/>
<polygon points="1906.80,480.60 1918.30,494.10 1906.80,507.60 1895.30,494.10" fill="#000"/>
<path d="M1167.5,353.40 L1171.5,355.00 L1175.5,356.64 L1179.5,358.30 L1183.5,359.99 L1187.5,361.69 L1191.5,363.40 L1195.5,365.11 L1199.5,366.81 L1203.5,368.50 L1207.5,370.17 L1211.5,371.81 L1215.5,373.41 L1219.5,374.96 L1223.5,376.47 L1227.5,377.92 L1231.5,379.30 L1235.5,380.61 L1239.5,381.86 L1243.5,383.04 L1247.5,384.14 L1251.5,385.18 L1255.5,386.15 L1259.5,387.05 L1263.5,387.88 L1267.5,388.64 L1271.5,389.33 L1275.5,389.95 L1279.5,390.49 L1283.5,390.97 L1287.5,391.38 L1291.5,391.72 L1295.5,391.98 L1299.5,392.17 L1303.5,392.28 L1307.5,392.30 L1311.5,392.24 L1315.5,392.08 L1319.5,391.82 L1323.5,391.46 L1327.5,391.00 L1331.5,390.43 L1335.5,389.74 L1339.5,388.94 L1343.5,388.01 L1347.5,386.95 L1351.5,385.77 L1355.5,384.44 L1359.5,382.99 L1363.5,381.41 L1367.5,379.71 L1371.5,377.88 L1375.5,375.95 L1379.5,373.91 L1383.5,371.76 L1387.5,369.52 L1391.5,367.18 L1395.5,364.76 L1399.5,362.25 L1403.5,359.66 L1407.5,357.00 L1411.5,354.27 L1415.5,351.47 L1419.5,348.62 L1423.5,345.70 L1427.5,342.72 L1431.5,339.67 L1435.5,336.56 L1439.5,333.39 L1443.5,330.15 L1447.5,326.84 L1451.5,323.47 L1455.5,320.03 L1459.5,316.53 L1463.5,312.95 L1467.5,309.31 L1471.5,305.60 L1475.5,301.81 L1479.5,297.96 L1483.5,294.03 L1487.5,290.04 L1491.5,285.98 L1495.5,281.85 L1499.5,277.66 L1503.5,273.40 L1507.5,269.08 L1511.5,264.70 L1515.5,260.25 L1519.5,255.75 L1523.5,251.19 L1527.5,246.57 L1531.5,241.90 L1535.5,237.17 L1539.5,232.38 L1543.5,227.56 L1547.5,222.70 L1551.5,217.84 L1555.5,212.99 L1559.5,208.16 L1563.5,203.37 L1567.5,198.64 L1571.5,193.99 L1575.5,189.44 L1579.5,184.99 L1583.5,180.67 L1587.5,176.50 L1591.5,172.49 L1595.5,168.66 L1599.5,165.03 L1603.5,161.60 L1607.5,158.40 L1611.5,155.41 L1615.5,152.65 L1619.5,150.13 L1623.5,147.83 L1627.5,145.78 L1631.5,143.98 L1635.5,142.43 L1639.5,141.14 L1643.5,140.10 L1647.5,139.34 L1651.5,138.84 L1655.5,138.62 L1659.5,138.69 L1663.5,139.04 L1667.5,139.69 L1671.5,140.67 L1675.5,141.98 L1679.5,143.65 L1683.5,145.70 L1687.5,148.14 L1691.5,150.99 L1695.5,154.28 L1699.5,158.01 L1703.5,162.21 L1707.5,166.90 L1711.5,172.09 L1715.5,177.80 L1719.5,184.05 L1721.9,188.07" fill="none" stroke="#000" stroke-width="2.75" stroke-linejoin="round" stroke-linecap="round"/>
<line x1="1157.00" y1="335.00" x2="1178.00" y2="335.00" stroke="#000" stroke-width="2.75" stroke-linecap="round"/>
<line x1="1157.00" y1="372.00" x2="1178.00" y2="372.00" stroke="#000" stroke-width="2.75" stroke-linecap="round"/>
<line x1="1341.70" y1="322.00" x2="1362.70" y2="322.00" stroke="#000" stroke-width="2.75" stroke-linecap="round"/>
<line x1="1352.20" y1="322.00" x2="1352.20" y2="372.10" stroke="#000" stroke-width="2.75" stroke-linecap="butt"/>
<line x1="1341.70" y1="449.70" x2="1362.70" y2="449.70" stroke="#000" stroke-width="2.75" stroke-linecap="round"/>
<line x1="1352.20" y1="449.70" x2="1352.20" y2="399.10" stroke="#000" stroke-width="2.75" stroke-linecap="butt"/>
<line x1="1526.60" y1="223.10" x2="1547.60" y2="223.10" stroke="#000" stroke-width="2.75" stroke-linecap="round"/>
<line x1="1537.10" y1="223.10" x2="1537.10" y2="221.00" stroke="#000" stroke-width="2.75" stroke-linecap="butt"/>
<line x1="1526.60" y1="246.00" x2="1547.60" y2="246.00" stroke="#000" stroke-width="2.75" stroke-linecap="round"/>
<line x1="1537.10" y1="246.00" x2="1537.10" y2="248.00" stroke="#000" stroke-width="2.75" stroke-linecap="butt"/>
<line x1="1711.40" y1="101.60" x2="1732.40" y2="101.60" stroke="#000" stroke-width="2.75" stroke-linecap="round"/>
<line x1="1721.90" y1="101.60" x2="1721.90" y2="174.30" stroke="#000" stroke-width="2.75" stroke-linecap="butt"/>
<line x1="1711.40" y1="274.10" x2="1732.40" y2="274.10" stroke="#000" stroke-width="2.75" stroke-linecap="round"/>
<line x1="1721.90" y1="274.10" x2="1721.90" y2="201.30" stroke="#000" stroke-width="2.75" stroke-linecap="butt"/>
<polygon points="1167.50,340.40 1178.70,360.90 1156.30,360.90" fill="#000"/>
<polygon points="1352.20,372.50 1363.40,393.00 1341.00,393.00" fill="#000"/>
<polygon points="1537.10,221.40 1548.30,241.90 1525.90,241.90" fill="#000"/>
<polygon points="1721.90,174.70 1733.10,195.20 1710.70,195.20" fill="#000"/>
</g>
<rect x="1238.8" y="75" width="218.7" height="169.8" fill="#fff" stroke="#2a2a2a" stroke-width="1.4"/>
<line x1="1248.20" y1="107.00" x2="1336.00" y2="107.00" stroke="#000" stroke-width="2.5" stroke-linecap="round"/>
<line x1="1248.20" y1="163.30" x2="1336.00" y2="163.30" stroke="#000" stroke-width="2.5" stroke-linecap="round"/>
<line x1="1248.20" y1="219.50" x2="1336.00" y2="219.50" stroke="#000" stroke-width="2.5" stroke-linecap="round"/>
<rect x="1283.70" y="98.00" width="17" height="19" fill="#000"/>
<polygon points="1292.20,150.50 1303.20,164.00 1292.20,177.50 1281.20,164.00" fill="#000"/>
<polygon points="1292.50,205.60 1303.75,228.00 1281.25,228.00" fill="#000"/>
<text transform="translate(1346,122.5) scale(0.855,1)" font-family='"Liberation Serif", serif' font-size="45.3" stroke="#000" stroke-width="0.5">m21<tspan font-family='"DejaVu Serif Condensed", "DejaVu Serif", "Noto Serif CJK SC", serif' font-size="44.5" stroke-width="0" dx="6" dy="0.5" textLength="38.6" lengthAdjust="spacingAndGlyphs">℃</tspan></text>
<text transform="translate(1346,179) scale(0.855,1)" font-family='"Liberation Serif", serif' font-size="45.3" stroke="#000" stroke-width="0.5">m25<tspan font-family='"DejaVu Serif Condensed", "DejaVu Serif", "Noto Serif CJK SC", serif' font-size="44.5" stroke-width="0" dx="6" dy="0.5" textLength="38.6" lengthAdjust="spacingAndGlyphs">℃</tspan></text>
<text transform="translate(1346,235.3) scale(0.855,1)" font-family='"Liberation Serif", serif' font-size="45.3" stroke="#000" stroke-width="0.5">m28<tspan font-family='"DejaVu Serif Condensed", "DejaVu Serif", "Noto Serif CJK SC", serif' font-size="44.5" stroke-width="0" dx="6" dy="0.5" textLength="38.6" lengthAdjust="spacingAndGlyphs">℃</tspan></text>
</g>
</svg>
</body></html>
